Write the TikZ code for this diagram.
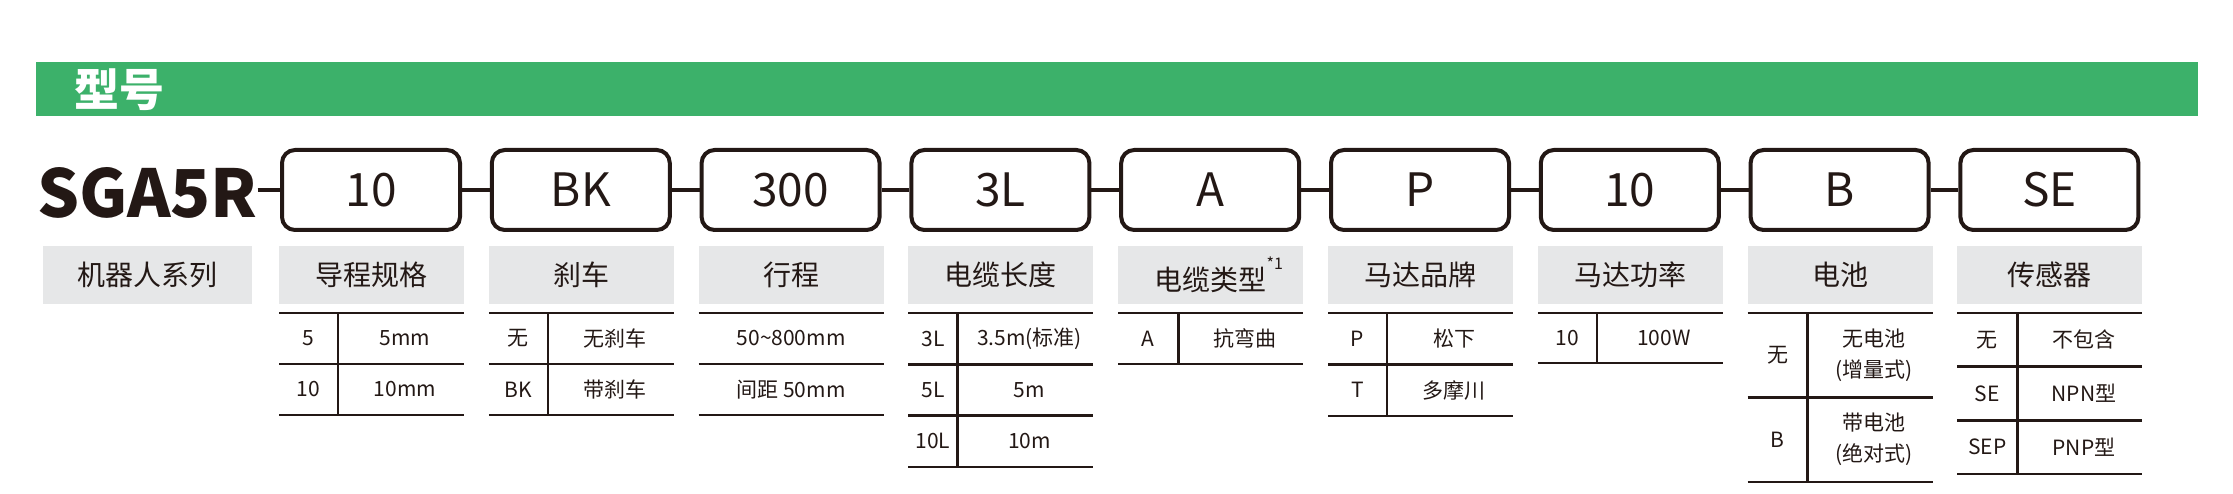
\documentclass[tikz,border=0pt]{standalone}
\usepackage{fontspec}
\setmainfont{Noto Sans CJK SC}
\definecolor{band}{HTML}{3CB16A}
\definecolor{ink}{HTML}{231815}
\definecolor{shade}{HTML}{E6E7E8}
\def\parts{
    10/导程规格,
    BK/刹车,
    300/行程,
    3L/电缆长度,
    A/电缆类型\rlap{\raisebox{21pt}{\fontsize{16}{16}\selectfont *1}},
    P/马达品牌,
    10/马达功率,
    B/电池,
    SE/传感器%
}
\def\specs{
    1/59/51/{5/5mm,10/10mm},
    2/59/51/{无/无刹车,BK/带刹车},
    3/0/51/{/50\textasciitilde800mm,/间距 50mm},
    4/49/51.3/{3L/3.5m(标准),5L/5m,10L/10m},
    5/60/51/{A/抗弯曲},
    6/59/51.5/{P/松下,T/多摩川},
    7/59/50/{10/100W},
    8/60/84.5/{无/无电池\\(增量式),B/带电池\\(绝对式)},
    9/60/53.7/{无/不包含,SE/NPN型,SEP/PNP型}%
}

\begin{document}
\begin{tikzpicture}[
    x=1pt, y=-1pt,
    partbox/.style={draw=ink, line width=4pt, rounded corners=13pt, minimum width=178pt, minimum height=80pt, inner sep=0pt, text=ink, font=\fontsize{46}{46}\selectfont},
    headbox/.style={fill=shade, minimum width=185pt, minimum height=58pt, inner sep=0pt, text=ink, font=\fontsize{28}{28}\selectfont},
    cell/.style={inner sep=0pt, align=center, text=ink, font=\fontsize{21}{31}\selectfont},
    link/.style={draw=ink, line width=4pt},
    hline/.style={draw=ink, line width=2.6pt}
]
  \useasboundingbox (0,0) rectangle (2233,494);

  % title band
  \fill[band] (36,62.5) rectangle (2198,116);
  \node[anchor=west, inner sep=0pt, text=white, font=\fontsize{45}{45}\selectfont\bfseries] (title) at (74,90) {型号};

  % model code
  \node[anchor=base west, inner sep=0pt, text=ink, font=\fontsize{66}{66}\selectfont\bfseries] (sga) at (37,218) {SGA5R};
  \node[headbox, minimum width=209pt] (h0) at (147.5,275) {机器人系列};

  \foreach \c/\t [count=\i] in \parts {
    \node[partbox] (b\i) at (371+209.8*\i-209.8,190) {\c};
    \node[headbox] (h\i) at (371.5+209.8*\i-209.8,275) {\t};
  }
  \draw[link] (b1.west -| sga.east) -- (b1.west);
  \foreach \i [count=\j from 2] in {1,...,8}
    \draw[link] (b\i.east) -- (b\j.west);

  % option tables
  \foreach \i/\w/\h/\rows in \specs {
    \pgfmathsetmacro\tl{279+209.8*(\i-1)}
    \pgfmathsetmacro\dx{\w>0 ? 4 : 0}
    \draw[hline] (\tl,313) -- ++(185,0);
    \foreach \c/\d [count=\r] in \rows {
      \draw[hline] (\tl,313+\h*\r) -- ++(185,0);
      \node[cell] (d\i-\r) at (\tl+\w/2+92.5+\dx, 313+\h*\r-\h/2) {\d};
      \ifnum\w>0
        \draw[hline] (\tl+\w,313+\h*\r-\h) -- ++(0,\h);
        \node[cell] (c\i-\r) at (\tl+\w/2, 313+\h*\r-\h/2) {\c};
      \fi
    }
  }

\end{tikzpicture}
\end{document}
